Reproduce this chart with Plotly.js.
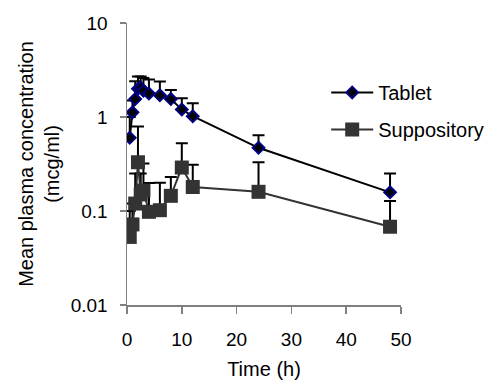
<!DOCTYPE html>
<html>
<head>
<meta charset="utf-8">
<script src="https://cdn.plot.ly/plotly-3.0.1.min.js"></script>
<style>html,body{margin:0;padding:0;background:#fff;}#chart{width:491px;height:383px;}</style>
</head>
<body>
<div id="chart"></div>
<script>
// Sampling times (h)
const timeTablet = [0.5, 1, 1.5, 2, 2.5, 3, 4, 6, 8, 10, 12, 24, 48];
const timeSupp   = [0.5, 1, 1.5, 2, 2.5, 3, 4, 6, 8, 10, 12, 24, 48];
// Mean plasma concentration (mcg/ml)
const tabletMean = [0.6, 1.12, 1.55, 2.0, 2.05, 1.9, 1.78, 1.7, 1.55, 1.2, 1.02, 0.47, 0.158];
const tabletErr  = [0.4, 0.38, 0.85, 0.7, 0.65, 0.7, 0.72, 0.68, 0.39, 0.38, 0.38, 0.17, 0.092];
const suppMean   = [0.053, 0.072, 0.12, 0.33, 0.15, 0.165, 0.098, 0.102, 0.145, 0.29, 0.18, 0.16, 0.068];
const suppErr    = [0.047, 0.048, 0.13, 0.46, 0.1, 0.155, 0.1, 0.098, 0.085, 0.235, 0.13, 0.17, 0.06];
const xTicks = [0, 10, 20, 30, 40, 50];
const yTicks = [0.01, 0.1, 1, 10];
const yTickText = ['0.01', '0.1', '1', '10'];

const font = 'Liberation Sans, Arial, sans-serif';
const zeros = a => a.map(() => 0);

const traces = [
  {
    name: 'Tablet', x: timeTablet, y: tabletMean, type: 'scatter', mode: 'lines+markers',
    legendgroup: 'a',
    line: {color: '#000000', width: 2},
    marker: {symbol: 'diamond', size: 9, color: '#000000', line: {color: '#000080', width: 2}},
    error_y: {type: 'data', symmetric: false, array: tabletErr, arrayminus: zeros(tabletErr),
              color: '#000000', thickness: 2, width: 6}
  },
  {
    name: 'Suppository', x: timeSupp, y: suppMean, type: 'scatter', mode: 'lines+markers',
    legendgroup: 'b',
    line: {color: '#333333', width: 2},
    marker: {symbol: 'square', size: 14, color: '#333333', line: {width: 0}},
    error_y: {type: 'data', symmetric: false, array: suppErr, arrayminus: zeros(suppErr),
              color: '#000000', thickness: 2, width: 6}
  }
];

const layout = {
  width: 491, height: 383,
  margin: {l: 127, r: 90, t: 23, b: 78, autoexpand: false},
  paper_bgcolor: '#ffffff', plot_bgcolor: '#ffffff',
  font: {family: font, size: 19, color: '#000000'},
  showlegend: true,
  legend: {x: 0.727, y: 0.823, xanchor: 'left', yanchor: 'top', bgcolor: 'rgba(0,0,0,0)',
           font: {family: font, size: 20, color: '#000'}, itemwidth: 42,
           traceorder: 'grouped', tracegroupgap: 8},
  xaxis: {
    range: [0, 50], tickvals: xTicks, ticktext: xTicks.map(String),
    showgrid: false, zeroline: false, showline: true, linecolor: '#808080', linewidth: 1.5,
    ticks: 'outside', ticklen: 7, tickcolor: '#808080', tickwidth: 1.5, ticklabelstandoff: 10,
    tickfont: {family: font, size: 19},
    title: {text: 'Time (h)', font: {family: font, size: 20}, standoff: 12}
  },
  yaxis: {
    type: 'log', range: [-2, 1], tickvals: yTicks, ticktext: yTickText,
    showgrid: false, zeroline: false, showline: true, linecolor: '#808080', linewidth: 1.5,
    ticks: 'outside', ticklen: 6, tickcolor: '#808080', tickwidth: 1.5, ticklabelstandoff: 8,
    tickfont: {family: font, size: 19},
    title: {text: 'Mean plasma concentration<br>(mcg/ml)', font: {family: font, size: 20}, standoff: 5}
  }
};

Plotly.newPlot('chart', traces, layout, {displayModeBar: false, staticPlot: true});
</script>
</body>
</html>
